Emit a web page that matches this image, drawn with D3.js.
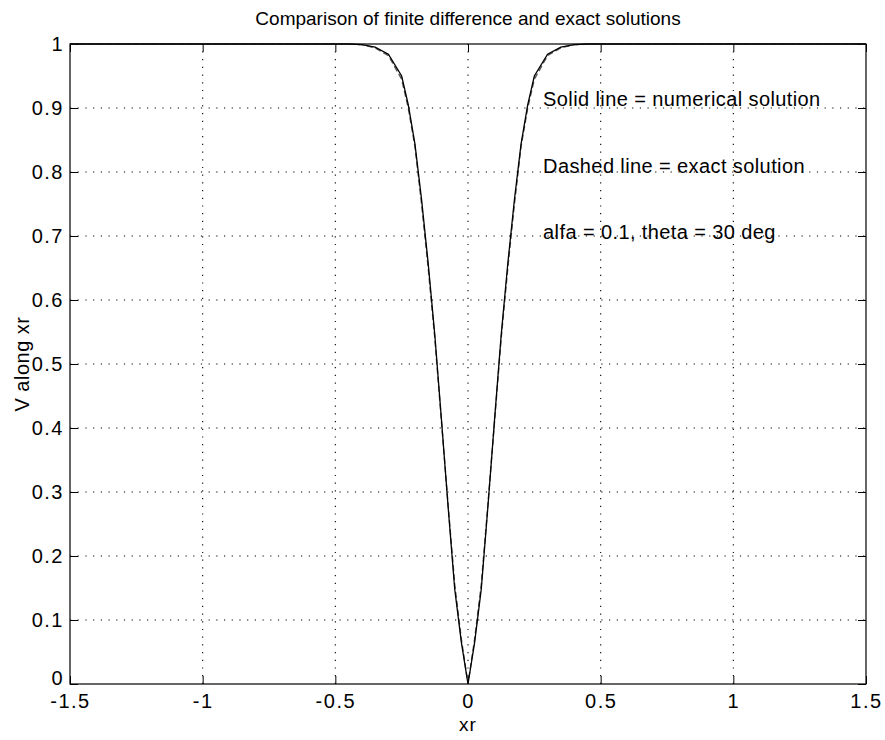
<!DOCTYPE html>
<html lang="en">
<head>
<meta charset="UTF-8">
<title>Comparison of finite difference and exact solutions</title>
<script src="https://d3js.org/d3.v7.js"></script>
<style>
body{ margin:0; background:#fff; }
svg{ display:block; }
text{
  font-family: "Liberation Sans", Arial, Helvetica, sans-serif;
  fill:#000;
}
.grid line{
  stroke:#000;
  stroke-width:1.1;
  stroke-dasharray:1.2 6.5;
}
</style>
</head>
<body>
<svg id="chart" width="885" height="740"></svg>
<script>
// data
const xr = [-1.5, -0.5, -0.45, -0.4, -0.35, -0.3, -0.25, -0.225, -0.2, -0.175, -0.15, -0.125, -0.1, -0.075, -0.05, -0.025,
            0, 0.025, 0.05, 0.075, 0.1, 0.125, 0.15, 0.175, 0.2, 0.225, 0.25, 0.3, 0.35, 0.4, 0.45, 0.5, 1.5];
const vNumerical = [1, 1, 1, 0.999, 0.995, 0.984, 0.95, 0.905, 0.844, 0.757, 0.657, 0.545, 0.413, 0.277, 0.148, 0.065,
                    0, 0.065, 0.148, 0.277, 0.413, 0.545, 0.657, 0.757, 0.844, 0.905, 0.95, 0.984, 0.995, 0.999, 1, 1, 1];
const vExact = [1, 1, 1, 0.999, 0.994, 0.982, 0.945, 0.9, 0.84, 0.75, 0.65, 0.54, 0.41, 0.28, 0.155, 0.07,
                0, 0.07, 0.155, 0.28, 0.41, 0.54, 0.65, 0.75, 0.84, 0.9, 0.945, 0.982, 0.994, 0.999, 1, 1, 1];

const xTicks = [-1.5, -1, -0.5, 0, 0.5, 1, 1.5];
const yTicks = [0, 0.1, 0.2, 0.3, 0.4, 0.5, 0.6, 0.7, 0.8, 0.9, 1];
const notes = ["Solid line = numerical solution", "Dashed line = exact solution", "alfa = 0.1, theta = 30 deg"];
const noteY = [0.912, 0.807, 0.703];

const margin = {left:70, right:19, top:44, bottom:56};
const width = 885, height = 740;

const svg = d3.select("#chart");
const x = d3.scaleLinear().domain([-1.5, 1.5]).range([margin.left, width - margin.right]);
const y = d3.scaleLinear().domain([0, 1]).range([height - margin.bottom, margin.top]);

// grid
const grid = svg.append("g").attr("class","grid");
grid.selectAll(".gx").data(xTicks.slice(1,-1)).join("line")
  .attr("x1", d=>x(d)).attr("x2", d=>x(d))
  .attr("y1", y(0)).attr("y2", y(1));
grid.selectAll(".gy").data(yTicks.slice(1,-1)).join("line")
  .attr("x1", x(-1.5)).attr("x2", x(1.5))
  .attr("y1", d=>y(d)).attr("y2", d=>y(d));

// axes, ticks pointing inward
const tickLen = 8;
const plain = d => String(d);   // keep the hyphen minus
svg.append("g").attr("class","ax").attr("transform", `translate(0,${y(0)})`)
  .call(d3.axisBottom(x).tickValues(xTicks).tickFormat(plain).tickSizeInner(-tickLen).tickSizeOuter(0).tickPadding(10))
  .call(g=>g.select(".domain").remove());
svg.append("g").attr("transform", `translate(0,${y(1)})`)
  .call(d3.axisTop(x).tickValues(xTicks).tickFormat("").tickSizeInner(-tickLen).tickSizeOuter(0))
  .call(g=>g.select(".domain").remove());
svg.append("g").attr("class","ax yax").attr("transform", `translate(${x(-1.5)},0)`)
  .call(d3.axisLeft(y).tickValues(yTicks).tickFormat(plain).tickSizeInner(-tickLen).tickSizeOuter(0).tickPadding(6))
  .call(g=>g.select(".domain").remove());
svg.append("g").attr("transform", `translate(${x(1.5)},0)`)
  .call(d3.axisRight(y).tickValues(yTicks).tickFormat("").tickSizeInner(-tickLen).tickSizeOuter(0))
  .call(g=>g.select(".domain").remove());

svg.selectAll(".tick line").attr("stroke","#000");
svg.selectAll(".ax .tick text")
  .style("font-family",'"Liberation Sans", Arial, sans-serif')
  .style("font-size","20px")
  .style("letter-spacing","1.5px")
  .attr("fill","#000");
// lift the bottom "0" a little so it clears "-1.5"
svg.selectAll(".yax .tick text").filter(d=>d===0).attr("y",-6);

// box
svg.append("rect")
  .attr("x", x(-1.5)).attr("y", y(1))
  .attr("width", x(1.5)-x(-1.5)).attr("height", y(0)-y(1))
  .attr("fill","none").attr("stroke","#000").attr("stroke-width",1.2);

// curves
const line = d3.line().x((d,i)=>x(xr[i])).y(d=>y(d));
svg.append("path").datum(vExact)
  .attr("d", line).attr("fill","none")
  .attr("stroke","#555").attr("stroke-width",1.4).attr("stroke-dasharray","6 3");
svg.append("path").datum(vNumerical)
  .attr("d", line).attr("fill","none")
  .attr("stroke","#000").attr("stroke-width",1.3);

// labels
svg.append("text")
  .attr("x", x(0)).attr("y", 25)
  .attr("text-anchor","middle").style("font-size","19px")
  .text("Comparison of finite difference and exact solutions");
svg.append("text")
  .attr("x", x(0)).attr("y", 731)
  .attr("text-anchor","middle").style("font-size","19px").style("letter-spacing","1px")
  .text("xr");
svg.append("text")
  .attr("transform", `translate(29,${(y(0)+y(1))/2}) rotate(-90)`)
  .attr("text-anchor","middle").style("font-size","20px").style("letter-spacing","0.5px")
  .text("V along xr");

svg.selectAll(".note").data(notes).join("text")
  .attr("class","note")
  .attr("x", x(0.283)).attr("y", (d,i)=>y(noteY[i]))
  .attr("dominant-baseline","middle")
  .style("font-size","20px").style("letter-spacing","0.4px")
  .text(d=>d);
</script>
</body>
</html>
